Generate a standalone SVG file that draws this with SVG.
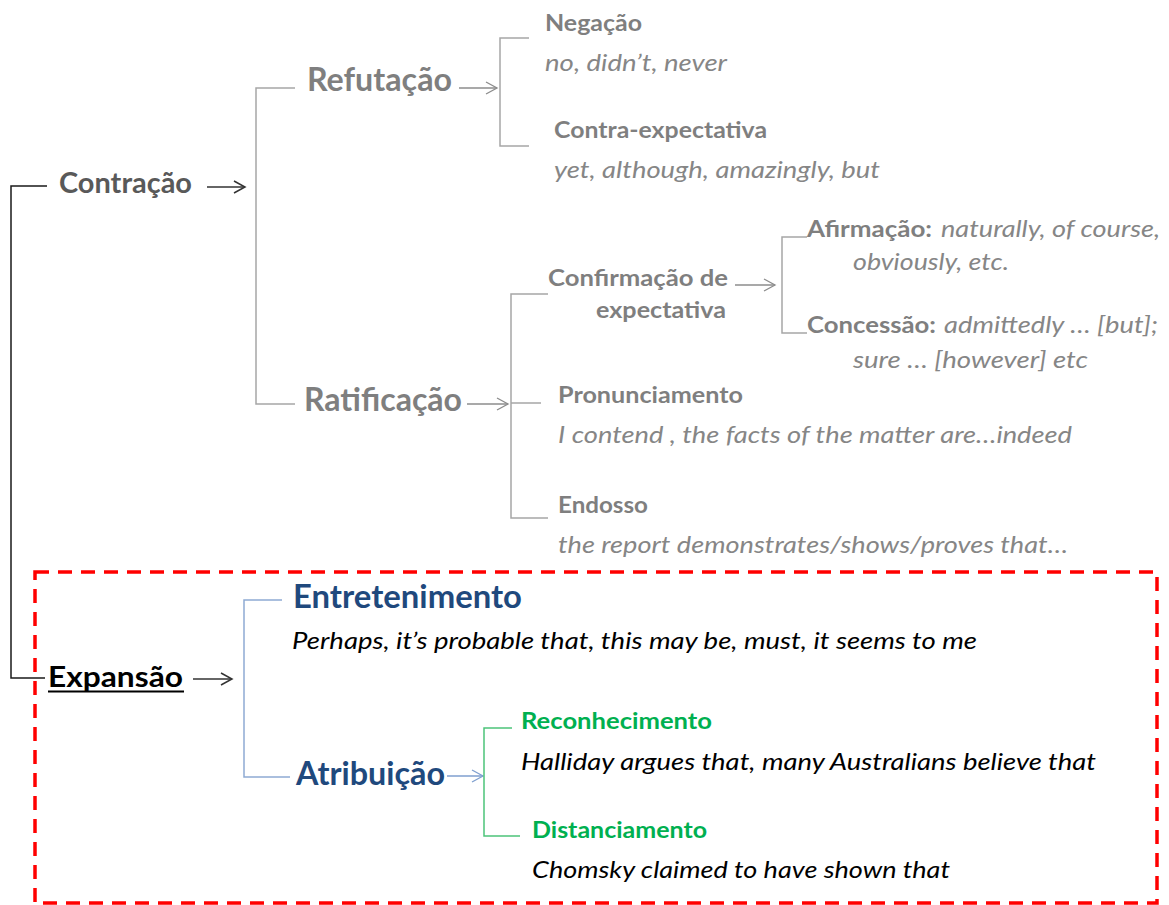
<svg xmlns="http://www.w3.org/2000/svg" width="1169" height="905" viewBox="0 0 1169 905">
  <style>
    text { font-family: Lato, "Open Sans", "Liberation Sans", sans-serif; }
    .b { font-weight: bold; }
    .i { font-style: italic; }
    .l1 { font-size: 28px; }
    .l2 { font-size: 32px; }
    .l3 { font-size: 22px; }
    .ex { font-size: 23px; }
    .ex2 { font-size: 24px; }
    .dark { fill: #595959; }
    .gray { fill: #7f7f7f; }
    .grayi { fill: #868686; }
    .black { fill: #000000; }
    .blue { fill: #1f497d; }
    .green { fill: #00b050; }
    .ln { fill: none; stroke-width: 1.5; }
    .k { stroke: #1a1a1a; }
    .g { stroke: #a6a6a6; }
    .bl { stroke: #8eaad3; }
    .gr { stroke: #4cc47a; }
    .arrK { stroke: #333333; marker-end: url(#headK); }
    .arrG { stroke: #8c8c8c; marker-end: url(#headG); }
    .arrB { stroke: #7f9fcf; marker-end: url(#headB); }
  </style>
  <defs>
    <marker id="headK" markerUnits="userSpaceOnUse" markerWidth="14" markerHeight="14" refX="12" refY="7" orient="auto">
      <path d="M1,1 L12,7 L1,13" fill="none" stroke="#333333" stroke-width="1.5"/>
    </marker>
    <marker id="headG" markerUnits="userSpaceOnUse" markerWidth="14" markerHeight="14" refX="12" refY="7" orient="auto">
      <path d="M1,1 L12,7 L1,13" fill="none" stroke="#8c8c8c" stroke-width="1.3"/>
    </marker>
    <marker id="headB" markerUnits="userSpaceOnUse" markerWidth="14" markerHeight="14" refX="12" refY="7" orient="auto">
      <path d="M1,1 L12,7 L1,13" fill="none" stroke="#7f9fcf" stroke-width="1.3"/>
    </marker>
  </defs>

  <rect width="1169" height="905" fill="#ffffff"/>

  <!-- dashed frame around the expansion branch -->
  <g id="frame-expansao">
    <rect x="35" y="572" width="1122" height="331" fill="none" stroke="#ff0000" stroke-width="3.5" stroke-dasharray="14 9"/>
  </g>

  <!-- connectors: brackets and arrows -->
  <g id="connectors">
    <path class="ln k" d="M47,186 H11 V678 H45"/>
    <line class="ln arrK" x1="207" y1="187" x2="245" y2="187"/>
    <line class="ln arrK" x1="193" y1="679" x2="232" y2="679"/>

    <path class="ln g" d="M295,88 H256 V404 H295"/>
    <line class="ln arrG" x1="459" y1="88" x2="497" y2="88"/>
    <path class="ln g" d="M529,38 H500 V146 H529"/>
    <line class="ln arrG" x1="467" y1="404" x2="508" y2="404"/>
    <path class="ln g" d="M548,294 H511 V518 H548 M511,403 H541"/>
    <line class="ln arrG" x1="735" y1="285" x2="775" y2="285"/>
    <path class="ln g" d="M807,237 H782 V333 H807"/>

    <path class="ln bl" d="M282,600 H244 V777 H290"/>
    <line class="ln arrB" x1="447" y1="776" x2="483" y2="776"/>
    <path class="ln gr" d="M512,728 H484 V836 H520"/>
  </g>

  <g id="n-contracao">
    <text class="b l1 dark" x="59" y="193" textLength="133" lengthAdjust="spacingAndGlyphs">Contração</text>
  </g>

  <g id="n-refutacao">
    <text class="b l2 gray" x="307" y="91" textLength="145" lengthAdjust="spacingAndGlyphs">Refutação</text>
  </g>

  <g id="n-negacao">
    <text class="b l3 gray" x="545" y="31" textLength="97" lengthAdjust="spacingAndGlyphs">Negação</text>
    <text class="i ex grayi" x="545" y="71" textLength="182" lengthAdjust="spacingAndGlyphs">no, didn’t, never</text>
  </g>

  <g id="n-contra-expectativa">
    <text class="b l3 gray" x="554" y="138" textLength="213" lengthAdjust="spacingAndGlyphs">Contra-expectativa</text>
    <text class="i ex grayi" x="554" y="178" textLength="326" lengthAdjust="spacingAndGlyphs">yet, although, amazingly, but</text>
  </g>

  <g id="n-ratificacao">
    <text class="b l2 gray" x="304" y="411" textLength="158" lengthAdjust="spacingAndGlyphs">Ratificação</text>
  </g>

  <g id="n-confirmacao">
    <text class="b l3 gray" x="548" y="286" textLength="180" lengthAdjust="spacingAndGlyphs">Confirmação de</text>
    <text class="b l3 gray" x="596" y="318" textLength="130" lengthAdjust="spacingAndGlyphs">expectativa</text>
  </g>

  <g id="n-afirmacao">
    <text class="b l3 gray" x="807" y="237" textLength="125" lengthAdjust="spacingAndGlyphs">Afirmação:</text>
    <text class="i ex grayi" x="941" y="237" textLength="219" lengthAdjust="spacingAndGlyphs">naturally, of course,</text>
    <text class="i ex grayi" x="853" y="270" textLength="156" lengthAdjust="spacingAndGlyphs">obviously, etc.</text>
  </g>

  <g id="n-concessao">
    <text class="b l3 gray" x="807" y="333" textLength="129" lengthAdjust="spacingAndGlyphs">Concessão:</text>
    <text class="i ex grayi" x="944" y="333" textLength="214" lengthAdjust="spacingAndGlyphs">admittedly … [but];</text>
    <text class="i ex grayi" x="853" y="368" textLength="235" lengthAdjust="spacingAndGlyphs">sure … [however] etc</text>
  </g>

  <g id="n-pronunciamento">
    <text class="b l3 gray" x="558" y="403" textLength="185" lengthAdjust="spacingAndGlyphs">Pronunciamento</text>
    <text class="i ex grayi" x="558" y="443" textLength="514" lengthAdjust="spacingAndGlyphs">I contend , the facts of the matter are…indeed</text>
  </g>

  <g id="n-endosso">
    <text class="b l3 gray" x="558" y="513" textLength="90" lengthAdjust="spacingAndGlyphs">Endosso</text>
    <text class="i ex grayi" x="558" y="553" textLength="510" lengthAdjust="spacingAndGlyphs">the report demonstrates/shows/proves that…</text>
  </g>

  <g id="n-expansao">
    <text class="b l1 black" x="48" y="687" textLength="135" lengthAdjust="spacingAndGlyphs">Expansão</text>
    <line x1="48" y1="691.5" x2="184" y2="691.5" stroke="#000000" stroke-width="2"/>
  </g>

  <g id="n-entretenimento">
    <text class="b l2 blue" x="293" y="608" textLength="229" lengthAdjust="spacingAndGlyphs">Entretenimento</text>
    <text class="i ex2 black" x="292" y="649" textLength="685" lengthAdjust="spacingAndGlyphs">Perhaps, it’s probable that, this may be, must, it seems to me</text>
  </g>

  <g id="n-atribuicao">
    <text class="b l2 blue" x="296" y="785" textLength="149" lengthAdjust="spacingAndGlyphs">Atribuição</text>
  </g>

  <g id="n-reconhecimento">
    <text class="b l3 green" x="521" y="729" textLength="191" lengthAdjust="spacingAndGlyphs">Reconhecimento</text>
    <text class="i ex2 black" x="521" y="770" textLength="575" lengthAdjust="spacingAndGlyphs">Halliday argues that, many Australians believe that</text>
  </g>

  <g id="n-distanciamento">
    <text class="b l3 green" x="532" y="838" textLength="175" lengthAdjust="spacingAndGlyphs">Distanciamento</text>
    <text class="i ex2 black" x="532" y="878" textLength="418" lengthAdjust="spacingAndGlyphs">Chomsky claimed to have shown that</text>
  </g>
</svg>
